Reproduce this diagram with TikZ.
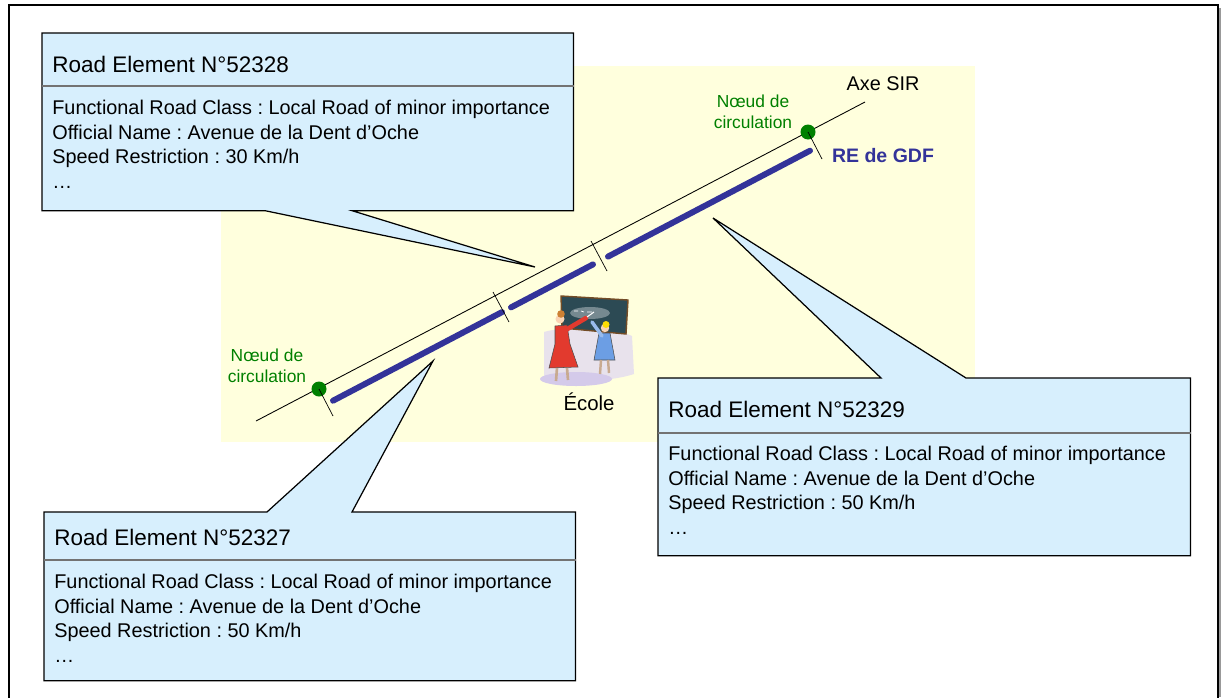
\documentclass[tikz,border=0pt]{standalone}
\usepackage{fontspec}
\setmainfont{Liberation Sans}
\usepackage{xcolor}
\usepackage{tikz}
\usetikzlibrary{positioning,calc}
\frenchspacing

\definecolor{mapyellow}{RGB}{255,255,221}
\definecolor{boxblue}{RGB}{215,239,253}
\definecolor{reblue}{RGB}{51,51,153}
\definecolor{nodegreen}{RGB}{0,128,0}
\definecolor{boardgreen}{RGB}{44,74,84}
\definecolor{dressred}{RGB}{226,58,46}
\definecolor{dressblue}{RGB}{108,158,228}
\definecolor{skin}{RGB}{250,212,180}
\definecolor{backdrop}{RGB}{232,226,236}
\definecolor{floorlav}{RGB}{212,202,234}

\begin{document}
\begin{tikzpicture}[x=0.02cm, y=-0.02cm,
	rebox/.style={minimum width=10.62cm, minimum height=3.54cm, inner sep=0pt, anchor=north west},
	callout/.style={draw, line width=0.7pt, fill=boxblue},
	retitle/.style={anchor=west, inner sep=0pt, font=\fontsize{12.8}{15}\selectfont},
	rebody/.style={anchor=north west, inner sep=0pt, align=left, font=\fontsize{11.3}{13.9}\selectfont},
	sepline/.style={draw=black!55, line width=0.6pt},
	noeud/.style={circle, fill=nodegreen, minimum size=0.3cm, inner sep=0pt},
	noeudlabel/.style={align=center, text=nodegreen, font=\fontsize{9.9}{12}\selectfont},
	cut/.style={line width=0.4pt},
	gdf/.style={line width=3.4pt, draw=reblue, line cap=round}]

		\useasboundingbox (0,0) rectangle (1221,697);
		\draw[line width=0.7pt] (9,5) rectangle (1218,730);
		\fill[black!40] (1219,8) rectangle (1221,697);

		% map area
		\fill[mapyellow] (221,66) rectangle (975,442);

		% axe SIR and the road elements below it
		\coordinate (axeA) at (256,421);
		\coordinate (axeB) at (865,102);
		\draw[line width=0.5pt] (axeA) -- (axeB);

		\draw[gdf] (333,400.7) -- (502,312.1);
		\draw[gdf] (511,307.4) -- (593,264.4);
		\draw[gdf] (608,256.6) -- (810,150.7);

		\node[noeud] (noeudA) at (319,389) {};
		\node[noeud] (noeudB) at (808,132) {};
		\draw[cut] (noeudA.center) -- ++(14,27);
		\draw[cut] (noeudB.center) -- ++(14,27);
		\draw[cut] (493,292) -- (509,322);
		\draw[cut] (591,241) -- (607,271);

		\node[noeudlabel] (lblA) at (267,366) {Nœud de\\circulation};
		\node[noeudlabel] (lblB) at (753,112) {Nœud de\\circulation};
		\node[font=\fontsize{11.3}{13}\selectfont] (axelbl) at (883,84) {Axe SIR};
		\node[font=\bfseries\fontsize{11.1}{13}\selectfont, text=reblue] (gdflbl) at (883,156) {RE de GDF};

		% school
		\fill[backdrop] (544,332) .. controls (562,326) and (616,328) .. (632,336) -- (634,374) .. controls (610,382) and (560,384) .. (544,376) -- cycle;
		\fill[floorlav] (576,379) ellipse [x radius=36, y radius=7];
		\filldraw[fill=boardgreen, draw=brown!60!black, line width=0.8pt] (561,296) -- (628,300) -- (626,334) -- (562,328) -- cycle;
		\fill[white!35!boardgreen] (590,313) ellipse [x radius=20, y radius=6];
		\draw[white, line width=0.4pt] (574,311) -- (578,311) (581,311) -- (584,312) (587,312) -- (592,312);
		\filldraw[fill=dressred, draw=black!70, line width=0.3pt] (555,326) -- (567,325) -- (570,344) -- (578,367) -- (549,368) -- (555,344) -- cycle;
		\draw[dressred, line width=2.6pt, line cap=round] (564,331) -- (586,318);
		\draw[skin!80!black, line width=1.5pt] (557,368) -- (556,381) (567,368) -- (568,380);
		\fill[skin] (560,319) circle [radius=4.5];
		\fill[brown!80!orange] (561,314) circle [radius=3.8];
		\draw[white, line width=0.6pt] (587,317) -- (594,312);
		\filldraw[fill=dressblue, draw=black!70, line width=0.3pt] (599,333) -- (610,333) -- (615,360) -- (594,360) -- cycle;
		\draw[dressblue!70!white, line width=2pt, line cap=round] (602,336) -- (592,322);
		\draw[skin!80!black, line width=1.4pt] (601,360) -- (600,374) (608,360) -- (609,373);
		\fill[skin] (605,328) circle [radius=4.2];
		\fill[yellow!80!orange] (606,324.5) circle [radius=3.5];
		\node[font=\fontsize{11.6}{14}\selectfont] (ecole) at (589,402) {École};

		% road element callouts
		\coordinate (tip52328) at (535,267);
		\coordinate (tip52327) at (433,361);
		\coordinate (tip52329) at (713,218);

		\node[rebox] (re52328) at (42,33) {};
		\path[callout] (re52328.north west) -- (re52328.north east) -- (re52328.south east)
			-- ($(re52328.south west)+(310,0)$) -- (tip52328) -- ($(re52328.south west)+(223,0)$)
			-- (re52328.south west) -- cycle;
		\draw[sepline] ($(re52328.north west)+(0,53)$) -- ($(re52328.north east)+(0,53)$);
		\node[retitle] (t52328) at ($(re52328.north west)+(10,31)$) {Road Element N°52328};
		\node[rebody] (b52328) at ($(re52328.north west)+(10,67)$) {Functional Road Class : Local Road of minor importance\\Official Name : Avenue de la Dent d’Oche\\Speed Restriction : 30 Km/h\\…};

		\node[rebox, minimum height=3.36cm] (re52327) at (44,512) {};
		\path[callout] (re52327.north west) -- ($(re52327.north west)+(223,0)$) -- (tip52327)
			-- ($(re52327.north west)+(308,0)$) -- (re52327.north east) -- (re52327.south east)
			-- (re52327.south west) -- cycle;
		\draw[sepline] ($(re52327.north west)+(0,48)$) -- ($(re52327.north east)+(0,48)$);
		\node[retitle] (t52327) at ($(re52327.north west)+(10,25)$) {Road Element N°52327};
		\node[rebody] (b52327) at ($(re52327.north west)+(10,62)$) {Functional Road Class : Local Road of minor importance\\Official Name : Avenue de la Dent d’Oche\\Speed Restriction : 50 Km/h\\…};

		\node[rebox, minimum width=10.64cm] (re52329) at (658,378) {};
		\path[callout] (re52329.north west) -- ($(re52329.north west)+(223,0)$) -- (tip52329)
			-- ($(re52329.north west)+(308,0)$) -- (re52329.north east) -- (re52329.south east)
			-- (re52329.south west) -- cycle;
		\draw[sepline] ($(re52329.north west)+(0,55)$) -- ($(re52329.north east)+(0,55)$);
		\node[retitle] (t52329) at ($(re52329.north west)+(10,31)$) {Road Element N°52329};
		\node[rebody] (b52329) at ($(re52329.north west)+(10,68)$) {Functional Road Class : Local Road of minor importance\\Official Name : Avenue de la Dent d’Oche\\Speed Restriction : 50 Km/h\\…};
	\end{tikzpicture}
\end{document}
